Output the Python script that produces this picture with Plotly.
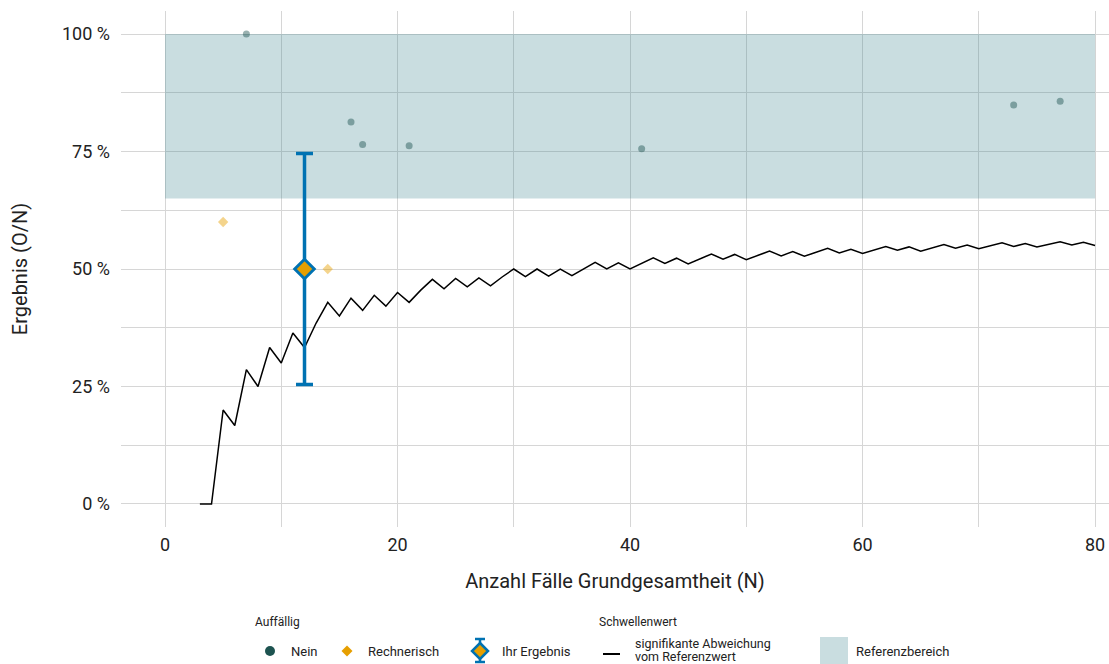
import plotly.graph_objects as go

# ---------------- data ----------------
line_n = list(range(3, 81))
line_pct = [0.0, 0.0, 20.0, 16.7, 28.6, 25.0, 33.3, 30.0, 36.4, 33.3,
            38.5, 42.9, 40.0, 43.8, 41.2, 44.4, 42.1, 45.0, 42.9, 45.5,
            47.8, 45.8, 48.0, 46.2, 48.1, 46.4, 48.3, 50.0, 48.4, 50.0,
            48.5, 50.0, 48.6, 50.0, 51.4, 50.0, 51.3, 50.0, 51.2, 52.4,
            51.2, 52.3, 51.1, 52.2, 53.2, 52.1, 53.1, 52.0, 52.9, 53.8,
            52.8, 53.7, 52.7, 53.6, 54.4, 53.4, 54.2, 53.3, 54.1, 54.8,
            54.0, 54.7, 53.8, 54.5, 55.2, 54.4, 55.1, 54.3, 54.9, 55.6,
            54.8, 55.4, 54.7, 55.3, 55.8, 55.1, 55.7, 55.0]

nein_n = [7, 16, 17, 21, 41, 73, 77]
nein_pct = [100.0, 81.3, 76.5, 76.2, 75.6, 84.9, 85.7]

rech_n = [5, 14]
rech_pct = [60.0, 50.0]

ihr_n = [12]
ihr_pct = [50.0]
ihr_lo = [25.4]
ihr_hi = [74.6]

ref_lo, ref_hi = 65.0, 100.0
ref_x0, ref_x1 = 0, 80

y_tickvals = [0, 25, 50, 75, 100]
y_ticktext = ["0 %", "25 %", "50 %", "75 %", "100 %"]
x_tickvals = [0, 20, 40, 60, 80]

# ---------------- styles ----------------
FONT = "Roboto"
BLUE = "#0072B2"
ORANGE = "#E69F00"
TEAL = "#1d5350"
GRID = "#d6d6d6"
TXT = "#222222"

fig = go.Figure()

fig.add_trace(go.Scatter(x=line_n, y=line_pct, mode="lines",
                         line=dict(color="black", width=1.5), showlegend=False))
fig.add_trace(go.Scatter(x=nein_n, y=nein_pct, mode="markers",
                         marker=dict(color=TEAL, size=7, opacity=0.45), showlegend=False))
fig.add_trace(go.Scatter(x=rech_n, y=rech_pct, mode="markers",
                         marker=dict(color=ORANGE, size=8, symbol="diamond", opacity=0.45),
                         showlegend=False))
fig.add_trace(go.Scatter(
    x=ihr_n, y=ihr_pct, mode="markers",
    marker=dict(color=ORANGE, size=15, symbol="diamond", line=dict(color=BLUE, width=3)),
    error_y=dict(type="data", symmetric=False,
                 array=[h - v for h, v in zip(ihr_hi, ihr_pct)],
                 arrayminus=[v - l for l, v in zip(ihr_lo, ihr_pct)],
                 color=BLUE, thickness=3.5, width=8.5),
    showlegend=False))

# reference area
fig.add_shape(type="rect", xref="x", yref="y", x0=ref_x0, x1=ref_x1, y0=ref_lo, y1=ref_hi,
              fillcolor="rgba(57,130,141,0.27)", line=dict(width=0), layer="between")

# ---------------- layout ----------------
L, R, T, B = 121, 1109, 11, 527
W, H = 1109, 664


def px(x):
    return (x - L) / (R - L)


def py(y):
    return (B - y) / (B - T)


fig.update_layout(
    width=W, height=H, autosize=False,
    margin=dict(l=L, r=W - R, t=T, b=H - B, pad=0),
    plot_bgcolor="white", paper_bgcolor="white",
    font=dict(family=FONT, color=TXT),
    showlegend=False,
    xaxis=dict(range=[-3.785, 81.2], tickvals=x_tickvals, ticks="", showline=False,
               zeroline=False, showgrid=True, gridcolor=GRID, gridwidth=1.3,
               minor=dict(dtick=10, tick0=0, showgrid=True, gridcolor=GRID, gridwidth=1.3),
               tickfont=dict(size=18, color=TXT), ticklabelstandoff=5,
               title=dict(text="Anzahl Fälle Grundgesamtheit (N)", font=dict(size=20, color=TXT),
                          standoff=19)),
    yaxis=dict(range=[-4.9, 104.9], tickvals=y_tickvals, ticktext=y_ticktext, ticks="",
               showline=False, zeroline=False, showgrid=True, gridcolor=GRID, gridwidth=1.3,
               minor=dict(dtick=12.5, tick0=0, showgrid=True, gridcolor=GRID, gridwidth=1.3),
               tickfont=dict(size=18, color=TXT), ticklabelstandoff=10,
               title=dict(text="Ergebnis (O/N)", font=dict(size=20, color=TXT), standoff=29)),
)

# ---------------- manual legend ----------------
ann = []
shapes = []


def text(x, y, s, size=13):
    ann.append(dict(x=px(x), y=py(y), xref="paper", yref="paper", text=s, showarrow=False,
                    xanchor="left", yanchor="middle", font=dict(size=size, color=TXT, family=FONT)))


def diamond(cx, cy, h, fill, line_color=None, lw=0):
    path = (f"M {px(cx)},{py(cy - h)} L {px(cx + h)},{py(cy)} "
            f"L {px(cx)},{py(cy + h)} L {px(cx - h)},{py(cy)} Z")
    shapes.append(dict(type="path", xref="paper", yref="paper", path=path, fillcolor=fill,
                       line=dict(color=line_color or fill, width=lw), layer="above"))


def seg(x0, y0, x1, y1, color, w):
    shapes.append(dict(type="line", xref="paper", yref="paper", x0=px(x0), y0=py(y0),
                       x1=px(x1), y1=py(y1), line=dict(color=color, width=w), layer="above"))


row = 651
text(253, 622, "Auffällig", 12)
shapes.append(dict(type="circle", xref="paper", yref="paper", x0=px(265), x1=px(275),
                   y0=py(656), y1=py(646), fillcolor=TEAL, line=dict(width=0)))
text(289, row, "Nein")
diamond(347, row, 5.5, ORANGE)
text(366, row, "Rechnerisch")
seg(480, 638.5, 480, 662.5, BLUE, 2.5)
seg(475, 639, 485, 639, BLUE, 2.5)
seg(475, 662, 485, 662, BLUE, 2.5)
diamond(480, row, 8, ORANGE, BLUE, 2.5)
text(500, row, "Ihr Ergebnis")
text(597, 622, "Schwellenwert", 12)
seg(603, 654, 620, 654, "black", 2)
text(633, 643, "signifikante Abweichung", 12.5)
text(633, 656.5, "vom Referenzwert", 12.5)
shapes.append(dict(type="rect", xref="paper", yref="paper", x0=px(820), x1=px(848),
                   y0=py(664), y1=py(637), fillcolor="#c9dde0", line=dict(width=0)))
text(854, row, "Referenzbereich")

fig.update_layout(annotations=ann)
for s in shapes:
    fig.add_shape(**s)

fig.write_html(
    "out.html",
    config={"displayModeBar": False},
    post_script="document.body.style.margin='0';document.body.style.padding='0';"
                "document.body.style.overflow='hidden';",
)
